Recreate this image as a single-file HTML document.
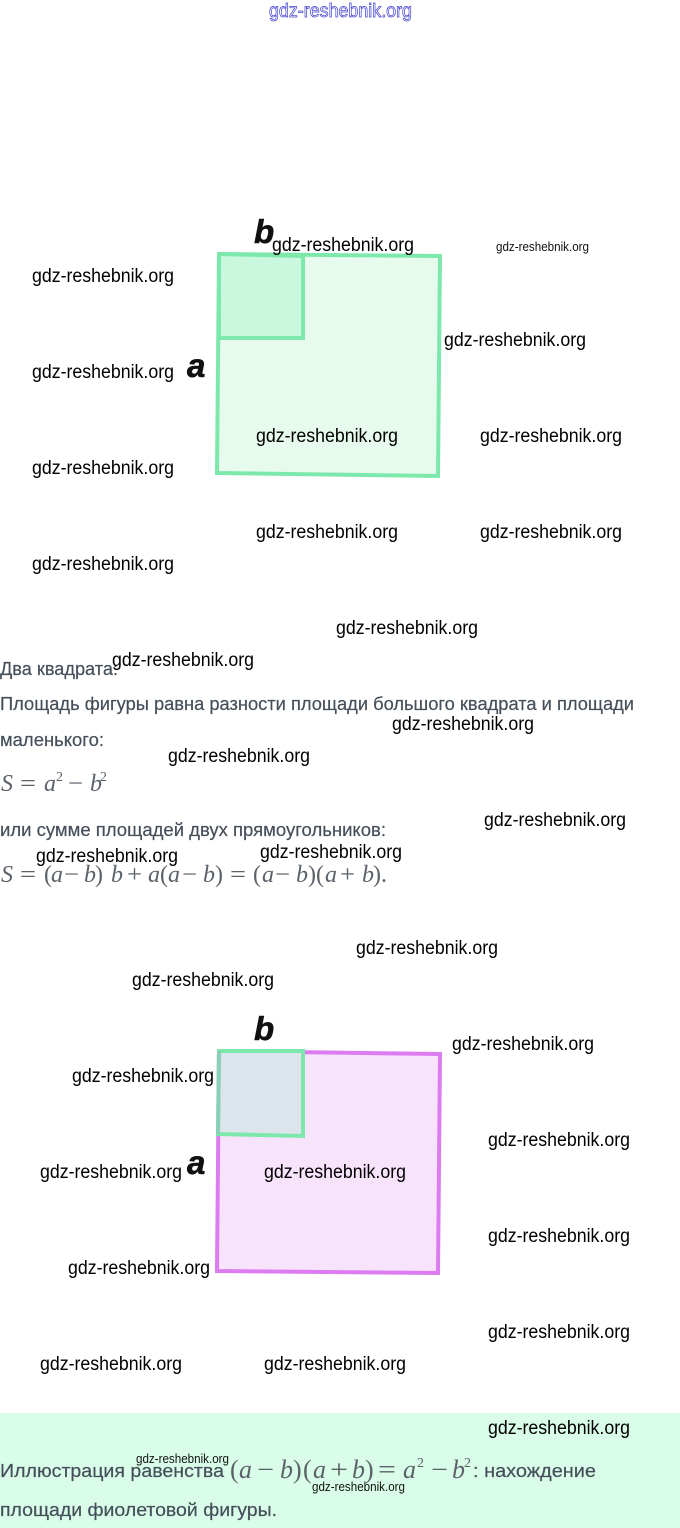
<!DOCTYPE html>
<html lang="ru">
<head>
<meta charset="utf-8">
<title>Два квадрата</title>
<style>
html,body{margin:0;padding:0;background:#fff}
svg{display:block}
.t{font-family:"Liberation Sans",sans-serif;font-size:18px;fill:#454f5a;stroke:#454f5a;stroke-width:.2px}
.m{font-family:"Liberation Serif",serif;font-size:24px;fill:#5c6269}
.c{font-size:26px}
.i{font-style:italic}
.s{font-family:"Liberation Serif",serif;font-size:14px;fill:#5c6269}
.l{font-family:"Liberation Sans",sans-serif;font-weight:bold;font-style:italic;font-size:33px;fill:#111;stroke:#111;stroke-width:.6px}
.w{font-family:"Liberation Sans",sans-serif;font-size:19px;fill:#000}
.x{font-family:"Liberation Sans",sans-serif;font-size:13px;fill:#111}
</style>
</head>
<body>
<svg width="680" height="1528" viewBox="0 0 680 1528" xmlns="http://www.w3.org/2000/svg">
<rect width="680" height="1528" fill="#fff"/>
<rect x="0" y="1413" width="680" height="115" fill="#d9fde9"/>

<text x="269" y="17" textLength="143" lengthAdjust="spacingAndGlyphs" font-family="Liberation Sans, sans-serif" font-size="19" fill="#fff" stroke="#3c3cd0" stroke-width=".7">gdz-reshebnik.org</text>

<!-- Figure 1 -->
<polygon points="219,254 440,256 438,476 217,473" fill="#e6fbee" stroke="#7de8ac" stroke-width="4"/>
<polygon points="219,254 303,256 303,338 219,338" fill="#c9f8de" stroke="#7de8ac" stroke-width="4"/>
<text class="l" x="254" y="243">b</text>
<text class="l" x="187" y="377">a</text>

<!-- Text block -->
<text class="t" x="0" y="675" textLength="118" lengthAdjust="spacingAndGlyphs">Два квадрата:</text>
<text class="t" x="0" y="710" textLength="634" lengthAdjust="spacingAndGlyphs">Площадь фигуры равна разности площади большого квадрата и площади</text>
<text class="t" x="0" y="746" textLength="104" lengthAdjust="spacingAndGlyphs">маленького:</text>
<text class="m i" x="1" y="791" textLength="12" lengthAdjust="spacingAndGlyphs">S</text>
<text class="m" x="20" y="791" textLength="16" lengthAdjust="spacingAndGlyphs">=</text>
<text class="m i" x="44" y="791">a</text>
<text class="s" x="56" y="781">2</text>
<text class="m" x="68" y="791" textLength="15" lengthAdjust="spacingAndGlyphs">−</text>
<text class="m i" x="90" y="791">b</text>
<text class="s" x="100" y="781">2</text>
<text class="t" x="0" y="836" textLength="386" lengthAdjust="spacingAndGlyphs">или сумме площадей двух прямоугольников:</text>

<text class="m i" x="1" y="882" textLength="12" lengthAdjust="spacingAndGlyphs">S</text>
<text class="m" x="20" y="882" textLength="16" lengthAdjust="spacingAndGlyphs">=</text>
<text class="m" x="44" y="882">(</text>
<text class="m i" x="51" y="882">a</text>
<text class="m" x="64" y="882" textLength="15" lengthAdjust="spacingAndGlyphs">−</text>
<text class="m i" x="84" y="882">b</text>
<text class="m" x="95" y="882">)</text>
<text class="m i" x="111" y="882">b</text>
<text class="m" x="127" y="882" textLength="15" lengthAdjust="spacingAndGlyphs">+</text>
<text class="m i" x="148" y="882">a</text>
<text class="m" x="160" y="882">(</text>
<text class="m i" x="168" y="882">a</text>
<text class="m" x="182" y="882" textLength="15" lengthAdjust="spacingAndGlyphs">−</text>
<text class="m i" x="203" y="882">b</text>
<text class="m" x="215" y="882">)</text>
<text class="m" x="230" y="882" textLength="16" lengthAdjust="spacingAndGlyphs">=</text>
<text class="m" x="253" y="882">(</text>
<text class="m i" x="262" y="882">a</text>
<text class="m" x="275" y="882" textLength="15" lengthAdjust="spacingAndGlyphs">−</text>
<text class="m i" x="296" y="882">b</text>
<text class="m" x="308" y="882">)</text>
<text class="m" x="316" y="882">(</text>
<text class="m i" x="325" y="882">a</text>
<text class="m" x="340" y="882" textLength="15" lengthAdjust="spacingAndGlyphs">+</text>
<text class="m i" x="362" y="882">b</text>
<text class="m" x="373" y="882">)</text>
<text class="m" x="381" y="882">.</text>

<!-- Figure 2 -->
<polygon points="219,1051 440,1054 438,1273 217,1271" fill="#f8e3fc" stroke="#dc7cf0" stroke-width="4"/>
<polygon points="219,1051 303,1051 303,1136 218,1134" fill="#dce5ec" stroke="#7de8ac" stroke-width="4"/>
<line x1="219" y1="1051" x2="218" y2="1134" stroke="#8ad0b8" stroke-width="4"/>
<text class="l" x="254" y="1040">b</text>
<text class="l" x="187" y="1174">a</text>

<!-- Caption -->
<text class="t" x="0" y="1477" textLength="224" lengthAdjust="spacingAndGlyphs">Иллюстрация равенства</text>
<text class="m c" x="230" y="1478">(</text>
<text class="m c i" x="239" y="1478">a</text>
<text class="m c" x="257" y="1478" textLength="17" lengthAdjust="spacingAndGlyphs">−</text>
<text class="m c i" x="280" y="1478">b</text>
<text class="m c" x="293" y="1478">)</text>
<text class="m c" x="303" y="1478">(</text>
<text class="m c i" x="313" y="1478">a</text>
<text class="m c" x="330" y="1478" textLength="18" lengthAdjust="spacingAndGlyphs">+</text>
<text class="m c i" x="352" y="1478">b</text>
<text class="m c" x="365" y="1478">)</text>
<text class="m c" x="378" y="1478" textLength="18" lengthAdjust="spacingAndGlyphs">=</text>
<text class="m c i" x="403" y="1478">a</text>
<text class="s" x="417" y="1467">2</text>
<text class="m c" x="431" y="1478" textLength="17" lengthAdjust="spacingAndGlyphs">−</text>
<text class="m c i" x="452" y="1478">b</text>
<text class="s" x="464" y="1467">2</text>
<text class="t" x="473" y="1477" textLength="123" lengthAdjust="spacingAndGlyphs">: нахождение</text>
<text class="t" x="0" y="1516" textLength="277" lengthAdjust="spacingAndGlyphs">площади фиолетовой фигуры.</text>

<!-- Watermarks -->
<g>
<text class="w" x="272" y="251" textLength="142" lengthAdjust="spacingAndGlyphs">gdz-reshebnik.org</text>
<text class="x" x="496" y="251" textLength="93" lengthAdjust="spacingAndGlyphs">gdz-reshebnik.org</text>
<text class="w" x="32" y="282" textLength="142" lengthAdjust="spacingAndGlyphs">gdz-reshebnik.org</text>
<text class="w" x="444" y="346" textLength="142" lengthAdjust="spacingAndGlyphs">gdz-reshebnik.org</text>
<text class="w" x="32" y="378" textLength="142" lengthAdjust="spacingAndGlyphs">gdz-reshebnik.org</text>
<text class="w" x="256" y="442" textLength="142" lengthAdjust="spacingAndGlyphs">gdz-reshebnik.org</text>
<text class="w" x="480" y="442" textLength="142" lengthAdjust="spacingAndGlyphs">gdz-reshebnik.org</text>
<text class="w" x="32" y="474" textLength="142" lengthAdjust="spacingAndGlyphs">gdz-reshebnik.org</text>
<text class="w" x="256" y="538" textLength="142" lengthAdjust="spacingAndGlyphs">gdz-reshebnik.org</text>
<text class="w" x="480" y="538" textLength="142" lengthAdjust="spacingAndGlyphs">gdz-reshebnik.org</text>
<text class="w" x="32" y="570" textLength="142" lengthAdjust="spacingAndGlyphs">gdz-reshebnik.org</text>
<text class="w" x="336" y="634" textLength="142" lengthAdjust="spacingAndGlyphs">gdz-reshebnik.org</text>
<text class="w" x="112" y="666" textLength="142" lengthAdjust="spacingAndGlyphs">gdz-reshebnik.org</text>
<text class="w" x="392" y="730" textLength="142" lengthAdjust="spacingAndGlyphs">gdz-reshebnik.org</text>
<text class="w" x="168" y="762" textLength="142" lengthAdjust="spacingAndGlyphs">gdz-reshebnik.org</text>
<text class="w" x="484" y="826" textLength="142" lengthAdjust="spacingAndGlyphs">gdz-reshebnik.org</text>
<text class="w" x="36" y="862" textLength="142" lengthAdjust="spacingAndGlyphs">gdz-reshebnik.org</text>
<text class="w" x="260" y="858" textLength="142" lengthAdjust="spacingAndGlyphs">gdz-reshebnik.org</text>
<text class="w" x="356" y="954" textLength="142" lengthAdjust="spacingAndGlyphs">gdz-reshebnik.org</text>
<text class="w" x="132" y="986" textLength="142" lengthAdjust="spacingAndGlyphs">gdz-reshebnik.org</text>
<text class="w" x="452" y="1050" textLength="142" lengthAdjust="spacingAndGlyphs">gdz-reshebnik.org</text>
<text class="w" x="72" y="1082" textLength="142" lengthAdjust="spacingAndGlyphs">gdz-reshebnik.org</text>
<text class="w" x="488" y="1146" textLength="142" lengthAdjust="spacingAndGlyphs">gdz-reshebnik.org</text>
<text class="w" x="40" y="1178" textLength="142" lengthAdjust="spacingAndGlyphs">gdz-reshebnik.org</text>
<text class="w" x="264" y="1178" textLength="142" lengthAdjust="spacingAndGlyphs">gdz-reshebnik.org</text>
<text class="w" x="488" y="1242" textLength="142" lengthAdjust="spacingAndGlyphs">gdz-reshebnik.org</text>
<text class="w" x="68" y="1274" textLength="142" lengthAdjust="spacingAndGlyphs">gdz-reshebnik.org</text>
<text class="w" x="488" y="1338" textLength="142" lengthAdjust="spacingAndGlyphs">gdz-reshebnik.org</text>
<text class="w" x="40" y="1370" textLength="142" lengthAdjust="spacingAndGlyphs">gdz-reshebnik.org</text>
<text class="w" x="264" y="1370" textLength="142" lengthAdjust="spacingAndGlyphs">gdz-reshebnik.org</text>
<text class="w" x="488" y="1434" textLength="142" lengthAdjust="spacingAndGlyphs">gdz-reshebnik.org</text>
<text class="x" x="136" y="1463" textLength="93" lengthAdjust="spacingAndGlyphs">gdz-reshebnik.org</text>
<text class="x" x="312" y="1491" textLength="93" lengthAdjust="spacingAndGlyphs">gdz-reshebnik.org</text>
</g>
</svg>
</body>
</html>
